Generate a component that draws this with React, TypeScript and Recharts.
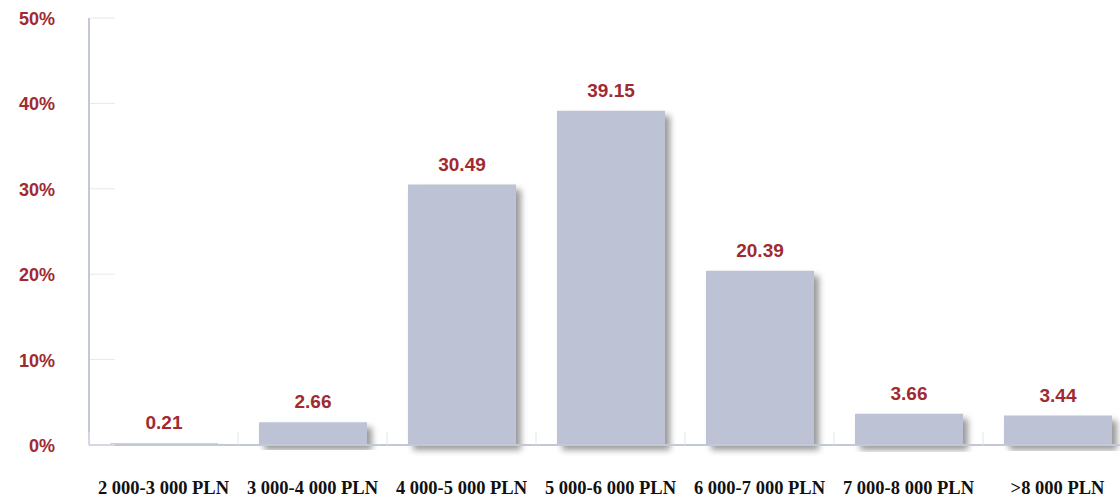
import { Bar, BarChart, LabelList, XAxis, YAxis } from "recharts";

const categories = [
  "2 000-3 000 PLN",
  "3 000-4 000 PLN",
  "4 000-5 000 PLN",
  "5 000-6 000 PLN",
  "6 000-7 000 PLN",
  "7 000-8 000 PLN",
  ">8 000 PLN",
];
const shares = [0.21, 2.66, 30.49, 39.15, 20.39, 3.66, 3.44];
const yTicks = [0, 10, 20, 30, 40, 50];

const data = categories.map((name, i) => ({ name, share: shares[i] }));

const RED = "#a12a30";
const AXIS = "#c3c8d9";

function YTick(props: any) {
  const { x, y, payload } = props;
  return (
    <g>
      <line x1={x + 35} x2={x + 60} y1={y} y2={y} stroke="#e6e8ee" strokeWidth={1} />
      <text
        x={x}
        y={y}
        dy={7}
        textAnchor="end"
        fill={RED}
        fontFamily="'Liberation Sans', Arial, sans-serif"
        fontWeight="bold"
        fontSize={18}
      >
        {payload.value}%
      </text>
    </g>
  );
}

function XTick(props: any) {
  const { x, y, payload } = props;
  const half = payload.offset || 74.5;
  return (
    <g>
      <line x1={x - half} x2={x - half} y1={y - 13} y2={y} stroke="#e3e5ec" strokeWidth={1} />
      <text
        x={x}
        y={y + 49}
        textAnchor="middle"
        fill="#111"
        fontFamily="'Liberation Serif', 'Times New Roman', serif"
        fontWeight="bold"
        fontSize={18.5}
      >
        {payload.value}
      </text>
    </g>
  );
}

export default function App() {
  return (
    <div
      style={{
        position: "absolute",
        left: 0,
        top: 0,
        width: 1120,
        height: 501,
        overflow: "hidden",
        background: "#fff",
      }}
    >
      <BarChart
        width={1140}
        height={501}
        data={data}
        margin={{ top: 18, right: 8, left: 0, bottom: 0 }}
      >
        <defs>
          <filter id="barShadow" x="-10%" y="-10%" width="130%" height="130%">
            <feDropShadow dx={5} dy={5} stdDeviation={3} floodColor="#000" floodOpacity={0.4} />
          </filter>
        </defs>
        <YAxis
          domain={[0, 50]}
          ticks={yTicks}
          width={89}
          axisLine={{ stroke: AXIS, strokeWidth: 2 }}
          tickLine={false}
          tickSize={0}
          tickMargin={34}
          tick={<YTick />}
          interval={0}
        />
        <XAxis
          dataKey="name"
          axisLine={{ stroke: AXIS, strokeWidth: 2 }}
          tickLine={false}
          tickSize={0}
          tickMargin={0}
          tick={<XTick />}
          interval={0}
          height={56}
        />
        <Bar
          dataKey="share"
          fill="#bdc3d5"
          barSize={108}
          filter="url(#barShadow)"
          isAnimationActive={false}
        >
          <LabelList
            dataKey="share"
            position="top"
            offset={14}
            fill={RED}
            fontFamily="'Liberation Sans', Arial, sans-serif"
            fontWeight="bold"
            fontSize={19}
            formatter={(v: any) => Number(v).toFixed(2)}
          />
        </Bar>
      </BarChart>
    </div>
  );
}
